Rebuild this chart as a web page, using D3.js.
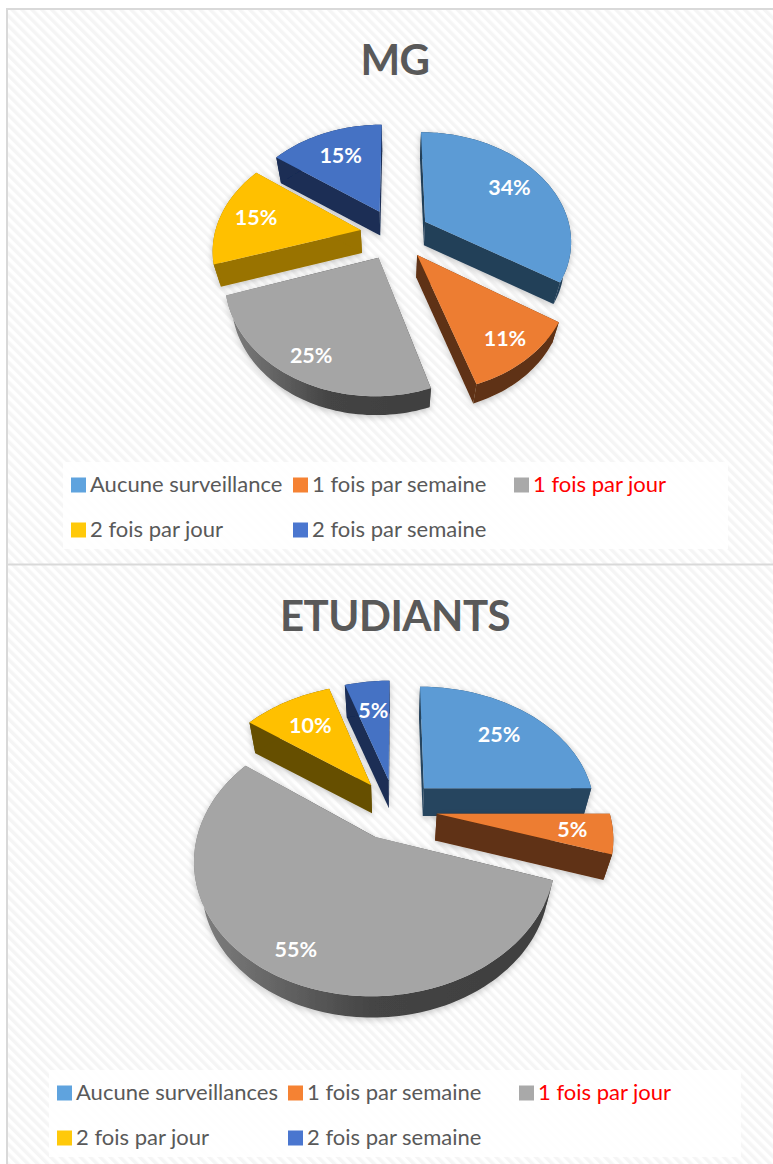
<!DOCTYPE html>
<html>
<head>
<meta charset="utf-8">
<script src="https://cdn.jsdelivr.net/npm/d3@7"></script>
<style>
   html, body { margin: 0; padding: 0; background: #fff; }
   svg { display: block; }
   text { font-family: Lato, "Noto Sans", sans-serif; }
</style>
</head>
<body>
<svg id="chart" width="773" height="1164"></svg>
<script>
const categories_mg = ['Aucune surveillance', '1 fois par semaine', '1 fois par jour', '2 fois par jour', '2 fois par semaine'];
const categories_etu = ['Aucune surveillances', '1 fois par semaine', '1 fois par jour', '2 fois par jour', '2 fois par semaine'];
const values_mg = [34, 11, 25, 15, 15];
const values_etu = [25, 5, 55, 10, 5];
const top_colors = ['#5b9bd5', '#ed7d31', '#a5a5a5', '#ffc000', '#4472c4'];
const legend_colors = ['#5fa3de', '#f58233', '#a9a9a9', '#ffc90a', '#4a76cf'];
const wall_colors_mg = ['#233f58', '#5f3012', 'url(#grayWall)', '#997300', '#1a2d54'];
const wall_colors_etu = ['#28455f', '#613113', 'url(#grayWall)', '#665000', '#1a2d54'];

const WIDTH = 773, HEIGHT = 1164;
const svg = d3.select('#chart');
const defs = svg.append('defs');

// hatched sheet behind both charts
const hatch = defs.append('pattern')
   .attr('id', 'hatch')
   .attr('patternUnits', 'userSpaceOnUse')
   .attr('width', 7)
   .attr('height', 7)
   .attr('patternTransform', 'rotate(-45)');
hatch.append('rect').attr('width', 7).attr('height', 7).attr('fill', '#fff');
hatch.append('rect').attr('width', 3.5).attr('height', 7).attr('fill', '#f5f5f5');

const grayWall = defs.append('linearGradient').attr('id', 'grayWall');
grayWall.append('stop').attr('offset', '0').attr('stop-color', '#808080');
grayWall.append('stop').attr('offset', '0.5').attr('stop-color', '#444');
grayWall.append('stop').attr('offset', '1').attr('stop-color', '#3f3f3f');

const shadow = defs.append('filter')
   .attr('id', 'soft')
   .attr('x', '-20%').attr('y', '-20%').attr('width', '140%').attr('height', '140%');
shadow.append('feDropShadow')
   .attr('dx', 0).attr('dy', 2)
   .attr('stdDeviation', 3)
   .attr('flood-color', '#000')
   .attr('flood-opacity', 0.22);

svg.append('rect')
   .attr('x', 7).attr('y', 9)
   .attr('width', WIDTH - 7).attr('height', HEIGHT - 9)
   .attr('fill', 'url(#hatch)');

const frame = [[[7, HEIGHT], [7, 9], [WIDTH, 9]], [[7, 564.5], [WIDTH, 564.5]]];
svg.selectAll('.frame')
   .data(frame)
   .join('path')
   .attr('class', 'frame')
   .attr('fill', 'none')
   .attr('stroke', '#d9d9d9')
   .attr('stroke-width', 2)
   .attr('d', d3.line());

const pie = d3.pie().sort(null).value(d => d);
const poly = d3.line();
const STEP = Math.PI / 120;

const drawChart = (o) => {
   const g = svg.append('g');

   // ground plane -> screen, simple perspective (Y grows toward the viewer)
   const project = (X, Y) => {
      const s = 1 / (1 - o.persp * Y);
      return [o.cx + X * s, o.cy + o.tilt * Y * s];
   };
   const lower = (p, Y) => [
      o.cx + (p[0] - o.cx) * 0.96,
      p[1] + o.depth * (1 - 0.001 * Y)
   ];

   g.append('text')
      .attr('x', o.cx)
      .attr('y', o.titleY)
      .attr('text-anchor', 'middle')
      .attr('font-size', 42)
      .attr('font-weight', 700)
      .attr('letter-spacing', -0.5)
      .attr('fill', '#595959')
      .text(o.title);

   const slices = pie(o.values).map((d, i) => {
      const mid = (d.startAngle + d.endAngle) / 2;
      return {d, i, mid, ox: o.explode * Math.sin(mid), oy: -o.explode * Math.cos(mid)};
   });

   // paint the far slices first
   const order = slices.slice().sort((a, b) => a.oy - b.oy);

   order.forEach(s => {
      const ground = [[s.ox, s.oy]];
      for (let a = s.d.startAngle; a < s.d.endAngle; a += STEP) {
         ground.push([s.ox + o.radius * Math.sin(a), s.oy - o.radius * Math.cos(a)]);
      }
      ground.push([s.ox + o.radius * Math.sin(s.d.endAngle), s.oy - o.radius * Math.cos(s.d.endAngle)]);

      const top = ground.map(p => project(p[0], p[1]));
      const bottom = top.map((p, k) => lower(p, ground[k][1]));
      const slice = g.append('g').attr('filter', 'url(#soft)');

      // walls: outer rim as one band, then the two cut faces
      const band = top.slice(1).concat(bottom.slice(1).reverse());
      const face1 = [top[0], top[1], bottom[1], bottom[0]];
      const face2 = [top[0], top[top.length - 1], bottom[bottom.length - 1], bottom[0]];
      [face1, face2, band].forEach(w => {
         slice.append('path')
            .attr('d', poly(w) + 'Z')
            .attr('fill', o.walls[s.i]);
      });

      slice.append('path')
         .attr('d', poly(top) + 'Z')
         .attr('fill', top_colors[s.i]);
   });

   // value labels sit further out on the near side of the pie
   slices.forEach(s => {
      const rho = 0.76 - 0.08 * Math.cos(s.mid);
      const p = project(
         s.ox + rho * o.radius * Math.sin(s.mid),
         s.oy - rho * o.radius * Math.cos(s.mid)
      );
      g.append('text')
         .attr('x', p[0])
         .attr('y', p[1])
         .attr('dy', '0.35em')
         .attr('text-anchor', 'middle')
         .attr('font-size', 21.5)
         .attr('font-weight', 700)
         .attr('fill', '#fff')
         .text(o.values[s.i] + '%');
   });

   // legend
   const lg = o.legend;
   g.append('rect')
      .attr('x', lg.x).attr('y', lg.y)
      .attr('width', lg.w).attr('height', lg.h)
      .attr('fill', '#fff')
      .attr('fill-opacity', 0.85);
   o.categories.forEach((c, i) => {
      const col = i % 3, row = Math.floor(i / 3);
      const lx = lg.cols[col], ly = lg.rows[row];
      g.append('rect')
         .attr('x', lx).attr('y', ly - 7.5)
         .attr('width', 15).attr('height', 15)
         .attr('fill', legend_colors[i]);
      g.append('text')
         .attr('x', lx + 19)
         .attr('y', ly + 7)
         .attr('font-size', 22)
         .attr('fill', i === 2 ? '#ff0000' : '#595959')
         .text(c);
   });
};

drawChart({
   title: 'MG', titleY: 75,
   categories: categories_mg, values: values_mg, walls: wall_colors_mg,
   cx: 395, cy: 234, radius: 146, explode: 35, tilt: 0.737, persp: 0.0011, depth: 23,
   legend: {x: 63, y: 462, w: 665, h: 87, cols: [71, 293, 514], rows: [485, 530]}
});

drawChart({
   title: 'ETUDIANTS', titleY: 631,
   categories: categories_etu, values: values_etu, walls: wall_colors_etu,
   cx: 395, cy: 809, radius: 172, explode: 42, tilt: 0.72, persp: 0.00093, depth: 27,
   legend: {x: 49, y: 1070, w: 692, h: 87, cols: [57, 288, 519], rows: [1093, 1138]}
});
</script>
</body>
</html>
